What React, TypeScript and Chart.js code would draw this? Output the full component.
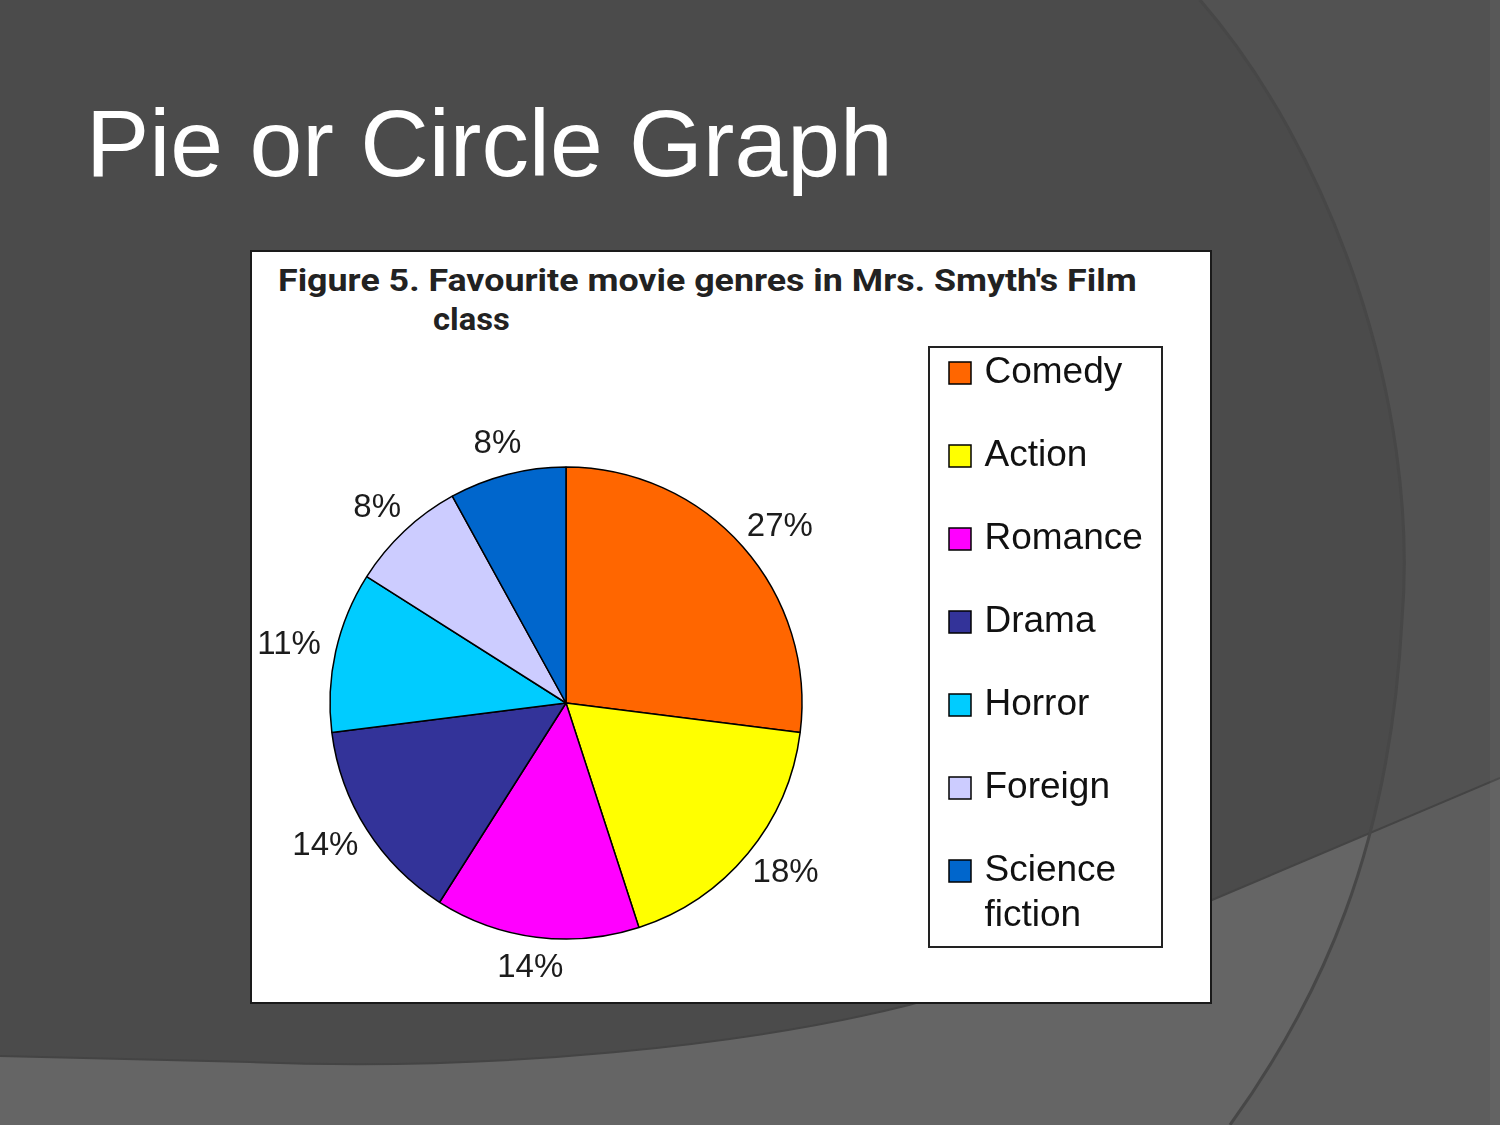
import React, { useEffect, useLayoutEffect, useRef, useState } from "react";
import { Chart, registerables } from "chart.js";

Chart.register(...registerables);

// ---- data ----
const genres: (string | string[])[] = ["Comedy", "Action", "Romance", "Drama", "Horror", "Foreign", ["Science", "fiction"]];
const shares = [27, 18, 14, 14, 11, 8, 8];
const sliceColors = ["#ff6600", "#ffff00", "#ff00ff", "#333399", "#00ccff", "#ccccff", "#0066cc"];
const slideTitle = "Pie or Circle Graph";
const chartTitleLines = ["Figure 5. Favourite movie genres in Mrs. Smyth's Film", "class"];

const pctLabels = {
  id: "pctLabels",
  afterDatasetsDraw(chart: any) {
    const ctx = chart.ctx;
    const meta = chart.getDatasetMeta(0);
    ctx.save();
    ctx.font = '33px "Liberation Sans", Arial, sans-serif';
    ctx.fillStyle = "#1c1c1c";
    ctx.textAlign = "center";
    ctx.textBaseline = "middle";
    meta.data.forEach((arc: any, i: number) => {
      const p = arc.getProps(["x", "y", "startAngle", "endAngle", "outerRadius"], true);
      const mid = (p.startAngle + p.endAngle) / 2;
      const c = Math.cos(mid);
      const s = Math.sin(mid);
      const text = shares[i] + "%";
      const hw = ctx.measureText(text).width / 2;
      const hh = 15;
      const r = p.outerRadius + 16;
      ctx.fillText(text, p.x + c * r + c * hw, p.y + s * r + s * hh);
    });
    ctx.restore();
  },
};

const legendFrame = {
  id: "legendFrame",
  afterDraw(chart: any) {
    const ctx = chart.ctx;
    const lg = chart.legend;
    ctx.save();
    ctx.strokeStyle = "#222";
    ctx.lineWidth = 2;
    const left = lg.left + 21;
    const top = lg.top + 38.5;
    ctx.strokeRect(left, top, 233, 600);
    ctx.restore();
  },
};

function FitText({ text, width, style }: { text: string; width: number; style: React.CSSProperties }) {
  const ref = useRef<HTMLSpanElement>(null);
  const [scale, setScale] = useState(1);
  useLayoutEffect(() => {
    const measure = () => {
      if (ref.current) {
        const w = ref.current.offsetWidth;
        if (w > 0) setScale(width / w);
      }
    };
    measure();
    (document as any).fonts?.ready.then(measure);
  }, [text, width]);
  return (
    <span
      ref={ref}
      style={{
        ...style,
        display: "inline-block",
        whiteSpace: "nowrap",
        transform: `scaleX(${scale})`,
        transformOrigin: "left center",
      }}
    >
      {text}
    </span>
  );
}

function PieChart() {
  const canvasRef = useRef<HTMLCanvasElement>(null);
  useEffect(() => {
    if (!canvasRef.current) return;
    const chart = new Chart(canvasRef.current, {
      type: "pie",
      data: {
        labels: genres as any,
        datasets: [
          {
            data: shares,
            backgroundColor: sliceColors,
            borderColor: "#000",
            borderWidth: 1.5,
            radius: 236,
          } as any,
        ],
      },
      options: {
        responsive: false,
        animation: false,
        events: [],
        layout: { padding: { left: 24, right: 48, top: 56.5, bottom: 14.5 } },
        plugins: {
          title: { display: false },
          tooltip: { enabled: false },
          legend: {
            position: "right",
            align: "start",
            maxWidth: 244,
            labels: {
              usePointStyle: true,
              pointStyle: "rect",
              boxWidth: 12,
              boxHeight: 22,
              padding: 46,
              color: "#111",
              font: { family: '"Liberation Sans", Arial, sans-serif', size: 37 },
            },
          },
        },
      } as any,
      plugins: [pctLabels, legendFrame],
    });
    return () => chart.destroy();
  }, []);
  return (
    <canvas
      ref={canvasRef}
      width={1000}
      height={860}
      style={{ position: "absolute", left: 200, top: 252, width: 1000, height: 860 }}
    />
  );
}

const ARC = "M1200,0 C1330,150 1420,400 1402,620 C1390,850 1320,1000 1230,1125";
const BOTTOM =
  "M0,1056 L250,1062 C500,1072 750,1045 909,1005 C1050,965 1150,925 1212,900 L1500,778 L1500,1125 L0,1125 Z";

export default function App() {
  return (
    <div style={{ position: "absolute", left: 0, top: 0, width: 1500, height: 1125, overflow: "hidden" }}>
      <svg width={1500} height={1125} style={{ position: "absolute", left: 0, top: 0 }}>
        <defs>
          <clipPath id="outerArc">
            <path d={ARC + " L1500,1125 L1500,0 Z"} />
          </clipPath>
        </defs>
        <rect width={1500} height={1125} fill="#4b4b4b" />
        <path d={ARC + " L1500,1125 L1500,0 Z"} fill="#525252" />
        <path d={BOTTOM} fill="#656565" />
        <path d={BOTTOM} fill="#5d5d5d" clipPath="url(#outerArc)" />
        <path
          d="M0,1056 L250,1062 C500,1072 750,1045 909,1005 C1050,965 1150,925 1212,900 L1500,778"
          fill="none"
          stroke="#444"
          strokeWidth={2}
        />
        <path d={ARC} fill="none" stroke="#474747" strokeWidth={3} />
        <rect x={1490} y={0} width={10} height={1125} fill="#ffffff" fillOpacity={0.04} />
      </svg>
      <div style={{ position: "absolute", left: 86, top: 96, lineHeight: 1 }}>
        <FitText
          text={slideTitle}
          width={807}
          style={{ fontFamily: '"Liberation Sans", Arial, sans-serif', fontSize: 95, color: "#fff", lineHeight: 1 }}
        />
      </div>
      <div
        style={{
          position: "absolute",
          left: 250,
          top: 250,
          width: 962,
          height: 754,
          boxSizing: "border-box",
          border: "2px solid #1a1a1a",
          background: "#fff",
        }}
      />
      <div style={{ position: "absolute", left: 278, top: 265, lineHeight: 1 }}>
        <FitText
          text={chartTitleLines[0]}
          width={859}
          style={{ fontFamily: "Roboto, sans-serif", fontWeight: 700, fontSize: 31, color: "#222", lineHeight: 1 }}
        />
      </div>
      <div style={{ position: "absolute", left: 433, top: 304, lineHeight: 1 }}>
        <FitText
          text={chartTitleLines[1]}
          width={77}
          style={{ fontFamily: "Roboto, sans-serif", fontWeight: 700, fontSize: 31, color: "#222", lineHeight: 1 }}
        />
      </div>
      <PieChart />
    </div>
  );
}
